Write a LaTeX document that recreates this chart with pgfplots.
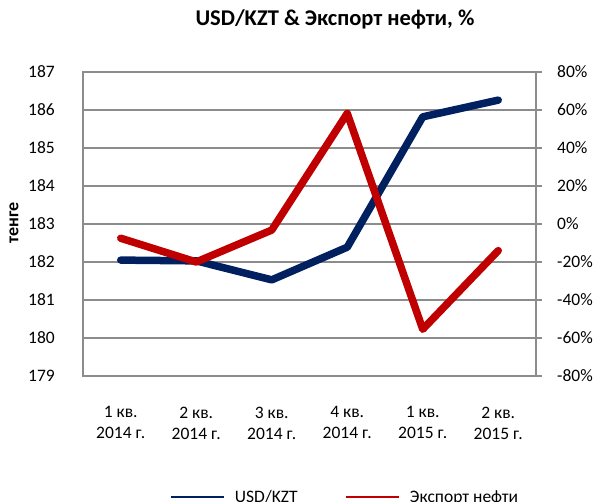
\documentclass[border=0pt]{standalone}
\usepackage{fontspec}
\setmainfont{Carlito}
\usepackage{pgfplots}
\pgfplotsset{compat=1.18}
\definecolor{navy}{HTML}{002060}
\definecolor{dred}{HTML}{C00000}
\definecolor{gridgray}{HTML}{8C8C8C}
\newcommand{\tickfont}{\fontsize{17.5bp}{21bp}\selectfont}
\begin{document}
\begin{tikzpicture}
\begin{axis}[
  scale only axis, width=453bp, height=304bp,
  at={(0,0)}, anchor=south west,
  xmin=-0.5, xmax=5.5, ymin=179, ymax=187,
  xtick={0,1,2,3,4,5},
  xticklabels={{1 кв.\\2014 г.},{2 кв.\\2014 г.},{3 кв.\\2014 г.},{4 кв.\\2014 г.},{1 кв.\\2015 г.},{2 кв.\\2015 г.}},
  ytick={179,180,181,182,183,184,185,186,187},
  yticklabels={179,180,181,182,183,184,185,186,187},
  tick style={draw=none},
  major tick length=0pt,
  ymajorgrids,
  grid style={draw=gridgray, line width=1.5bp},
  axis line style={draw=gridgray, line width=1.5bp},
  yticklabel style={font=\tickfont, inner sep=0pt, anchor=east},
  yticklabel shift=28bp,
  xticklabel style={font=\tickfont, inner sep=0pt, align=center, anchor=north},
  xticklabel shift=30.5bp,
  ylabel={тенге},
  ylabel style={font=\fontsize{18bp}{21bp}\selectfont\bfseries, at={(axis description cs:-0.1523,0.503)}, anchor=center},
  title={USD/KZT \& Экспорт нефти, \%},
  title style={font=\fontsize{22.5bp}{26bp}\selectfont\bfseries, at={(axis description cs:0.5563,1.1326)}, anchor=base},
  legend columns=2,
  legend style={at={(axis description cs:0.192,-0.398)}, anchor=west, draw=none, fill=none,
    inner sep=0pt, outer sep=0pt, font=\tickfont, nodes={inner sep=0pt}},
  legend image code/.code={\draw[#1, line width=2.5bp, line cap=butt] (0bp,0bp) -- (53bp,0bp); \path (60bp,0bp);},
]
\addplot[navy, line width=7.5bp, line join=round, line cap=round] coordinates {
  (0,182.05) (1,182.03) (2,181.53) (3,182.39) (4,185.82) (5,186.26)};
\addlegendentry{\makebox[110bp][l]{USD/KZT}}
\addlegendimage{dred, line width=7.5bp}
\addlegendentry{Экспорт нефти}
\end{axis}
\begin{axis}[
  scale only axis, width=453bp, height=304bp,
  at={(0,0)}, anchor=south west,
  xmin=-0.5, xmax=5.5, ymin=-80, ymax=80,
  axis x line=none,
  axis y line*=right,
  xtick=\empty,
  ytick={-80,-60,-40,-20,0,20,40,60,80},
  yticklabels={-80\%,-60\%,-40\%,-20\%,0\%,20\%,40\%,60\%,80\%},
  tick align=outside,
  major tick length=6bp,
  ytick style={draw=gridgray, line width=1.5bp},
  axis line style={draw=gridgray, line width=1.5bp},
  yticklabel style={font=\tickfont, inner sep=0pt, anchor=west},
  yticklabel shift=15bp,
]
\addplot[dred, line width=7.5bp, line join=round, line cap=round] coordinates {
  (0,-7.5) (1,-20) (2,-3.2) (3,58.2) (4,-55.4) (5,-14.0)};
\end{axis}
\pgfresetboundingbox
\useasboundingbox (-83bp,-126bp) rectangle (514bp,376bp);
\end{tikzpicture}
\end{document}
